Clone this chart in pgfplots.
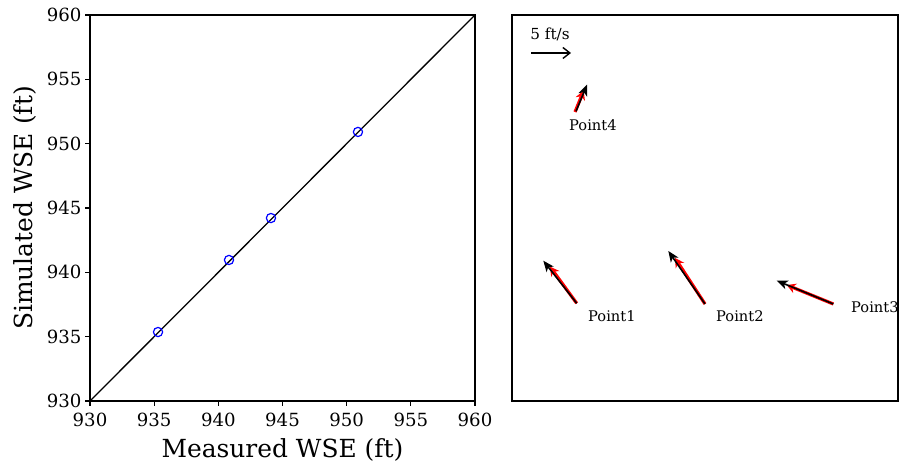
\documentclass[border=0pt]{standalone}
\usepackage{pgfplots}
\pgfplotsset{compat=1.18}
\usepackage{fontspec}
\setmainfont{DejaVu Serif}
\usetikzlibrary{arrows.meta}
\begin{document}
\begin{tikzpicture}[x=1bp,y=1bp]
\useasboundingbox (0,0) rectangle (901,464);
\begin{axis}[
  at={(90bp,63bp)}, anchor=south west,
  scale only axis, width=385bp, height=386bp,
  xmin=930, xmax=960, ymin=930, ymax=960,
  xtick={930,935,...,960}, ytick={930,935,...,960},
  tick align=outside, xtick pos=bottom, ytick pos=left,
  major tick length=5bp,
  axis line style={line width=1.1bp},
  every tick/.style={black, line width=1.1bp},
  /pgf/number format/assume math mode=true,
  /pgf/number format/1000 sep={},
  tick label style={font=\fontsize{18.2}{22}\selectfont},
  label style={font=\fontsize{25}{30}\selectfont},
  xlabel={Measured WSE (ft)}, ylabel={Simulated WSE (ft)},
  xticklabel style={yshift=-4bp},
  xlabel style={yshift=-5bp},
  ylabel style={yshift=4bp},
]
\addplot[black, line width=1.3bp] coordinates {(930,930) (960,960)};
\addplot[only marks, mark=o, mark size=4.6bp, blue, mark options={line width=1.2bp}]
  coordinates {(935.3,935.36) (940.83,940.96) (944.10,944.22) (950.88,950.91)};
\end{axis}
\begin{axis}[
  at={(512bp,63bp)}, anchor=south west,
  scale only axis, width=386bp, height=386bp,
  xmin=0, xmax=386, ymin=0, ymax=386,
  xtick=\empty, ytick=\empty,
  axis line style={line width=1.1bp},
  clip=false,
]
% reference arrow
\addplot[black, line width=1.4bp, quiver={u=\thisrow{u}, v=\thisrow{v}}, -{Straight Barb[length=7bp,width=11bp]}]
  table {
x y u v
19 348 40 0
};
% red (simulated) arrows
\addplot[red, line width=3.2bp, quiver={u=\thisrow{u}, v=\thisrow{v}}, -{Stealth[length=9bp,width=10bp,inset=3bp]}]
  table {
x y u v
64.7 97.7 -26.7 36.6
193 97 -30 46
321.3 97 -46.6 19
63 289 8.7 21.3
};
% black (measured) arrows
\addplot[black, line width=1.6bp, quiver={u=\thisrow{u}, v=\thisrow{v}}, -{Stealth[length=11bp,width=9bp,inset=3bp]}]
  table {
x y u v
64.7 97.7 -33.4 42.6
193 97 -36.7 53
321.3 97 -56.6 23.3
64 289.7 11 26.6
};
\node[font=\fontsize{15.3}{18}\selectfont] at (axis cs:38,367) {5 ft/s};
\node[font=\fontsize{14.7}{18}\selectfont, anchor=west, inner sep=0pt] at (axis cs:76,85) {Point1};
\node[font=\fontsize{14.7}{18}\selectfont, anchor=west, inner sep=0pt] at (axis cs:204,85) {Point2};
\node[font=\fontsize{14.7}{18}\selectfont, anchor=west, inner sep=0pt] at (axis cs:339,94) {Point3};
\node[font=\fontsize{14.7}{18}\selectfont, anchor=west, inner sep=0pt] at (axis cs:57,276) {Point4};
\end{axis}
\end{tikzpicture}
\end{document}
